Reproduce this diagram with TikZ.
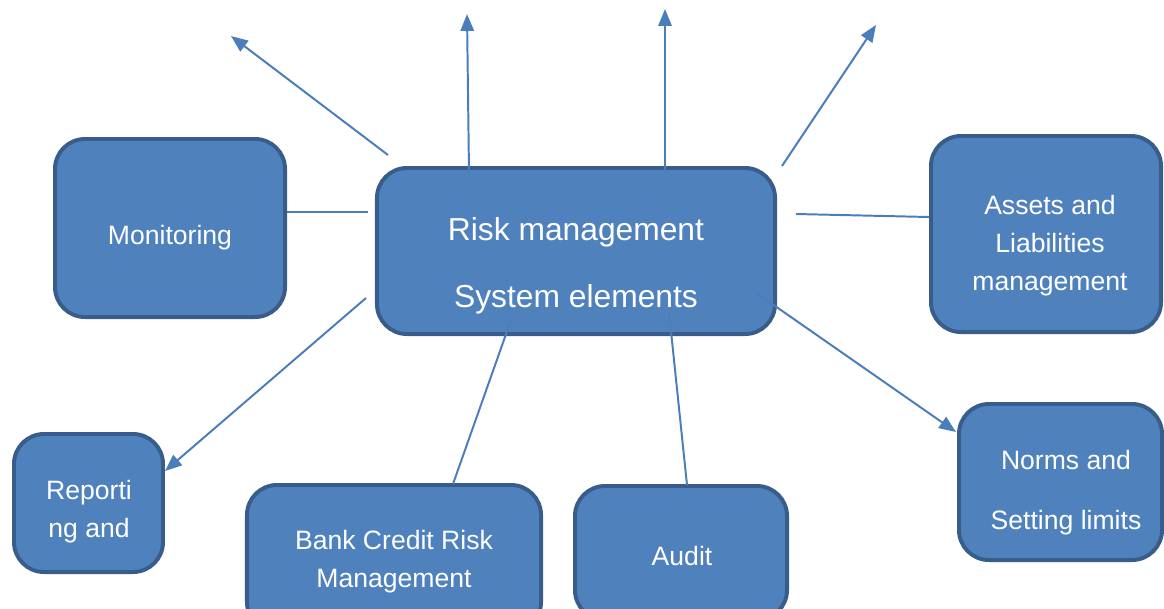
\documentclass[tikz,border=0pt]{standalone}
\usepackage{fontspec}
\setmainfont{Liberation Sans}
\usetikzlibrary{arrows.meta}

\definecolor{boxfill}{HTML}{4F81BD}
\definecolor{boxline}{HTML}{385D8A}
\definecolor{linkblue}{HTML}{4A7EBB}

\tikzset{
    box/.style={draw=boxline, fill=boxfill, line width=2.8pt, rounded corners=0.75cm},
    txt/.style={text=white, align=center, inner sep=0pt, font=\fontsize{18.9}{27}\selectfont},
    link/.style={draw=linkblue, line width=1.4pt},
    arr/.style={link, -{Triangle[length=12pt,width=9.5pt]}}
}

\begin{document}
\begin{tikzpicture}[x=0.025cm, y=-0.025cm]
        \useasboundingbox (0,0) rectangle (1164,608);

        % boxes
        \node[box, minimum width=5.75cm,  minimum height=4.45cm]  (mon)    at (170,228)   {};
        \node[box, minimum width=9.95cm,  minimum height=4.15cm]  (sys)    at (576,251)   {};
        \node[box, minimum width=5.75cm,  minimum height=4.9cm]   (assets) at (1046,234)  {};
        \node[box, minimum width=5.075cm, minimum height=3.9cm]   (norms)  at (1060.5,482){};
        \node[box, minimum width=3.725cm, minimum height=3.45cm]  (rep)    at (88.5,503)  {};
        \node[box, minimum width=7.35cm,  minimum height=3.675cm] (bank)   at (394,558.5) {};
        \node[box, minimum width=5.3cm,   minimum height=3.35cm]  (audit)  at (681,553)   {};

        % texts
        \node[txt] (mon-t)    at (170,238)    {Monitoring};
        \node[txt, font=\fontsize{22.6}{47.7}\selectfont] (sys-t) at (576,266) {Risk management\\System elements};
        \node[txt] (assets-t) at (1050,246)   {Assets and\\Liabilities\\management};
        \node[txt, font=\fontsize{18.9}{42.7}\selectfont] (norms-t) at (1066,493) {Norms and\\Setting limits};
        \node[txt] (rep-t)    at (89,512)     {Reporti\\ng and};
        \node[txt] (bank-t)   at (394,562)    {Bank Credit Risk\\Management};
        \node[txt] (audit-t)  at (682,556)    {Audit};

        % loose ends
        \coordinate (m1) at (368,212);
        \coordinate (a1) at (796,214);
        \coordinate (a2) at (929,217);
        \coordinate (r1) at (366,298);
        \coordinate (r2) at (165,471);
        \coordinate (b1) at (511,320);
        \coordinate (b2) at (453,484);
        \coordinate (d1) at (669,312);
        \coordinate (d2) at (687,485);
        \coordinate (n1) at (755,292);
        \coordinate (n2) at (956,432);
        \coordinate (u1) at (388,155);
        \coordinate (v1) at (231,36);
        \coordinate (u2) at (469,172);
        \coordinate (v2) at (467,14);
        \coordinate (u3) at (665,172);
        \coordinate (v3) at (665,9);
        \coordinate (u4) at (782,166);
        \coordinate (v4) at (876,25);

        % connectors
        \draw[link] (mon.east |- m1) -- (m1);
        \draw[link] (a1) -- (a2);
        \draw[link] (b1) -- (b2);
        \draw[link] (d1) -- (d2);
        \draw[arr]  (r1) -- (r2);
        \draw[arr]  (n1) -- (n2);
        \draw[arr]  (u1) -- (v1);
        \draw[arr]  (u2) -- (v2);
        \draw[arr]  (u3) -- (v3);
        \draw[arr]  (u4) -- (v4);
    \end{tikzpicture}
\end{document}
